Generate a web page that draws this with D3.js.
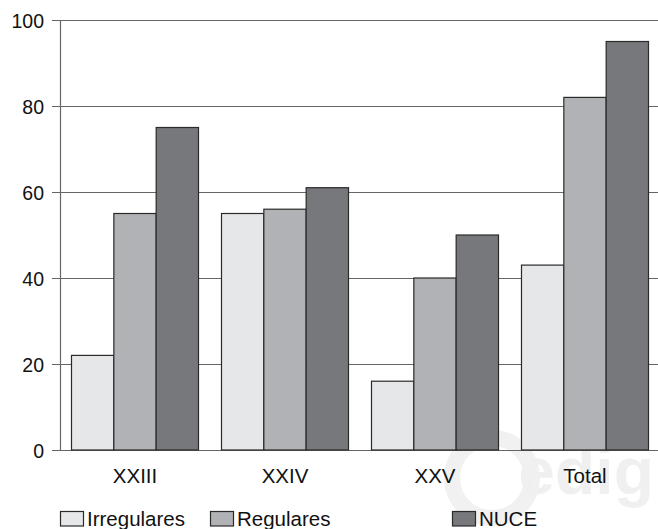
<html>
  <head>
    <script src="https://d3js.org/d3.v7.min.js"></script>
    <style>
      body { margin: 0; background: #fff; }
      text { font-family: "Liberation Sans", Arial, sans-serif; fill: #111; }
    </style>
  </head>
  <body>
<div id="my_dataviz"></div>
<script>
// data
var categories = ["XXIII", "XXIV", "XXV", "Total"];
var seriesNames = ["Irregulares", "Regulares", "NUCE"];
var irregulares = [22, 55, 16, 43];
var regulares = [55, 56, 40, 82];
var nuce = [75, 61, 50, 95];
var yTicks = [0, 20, 40, 60, 80, 100];

var colors = ["#e6e7e9", "#b1b2b6", "#77787c"];
var seriesValues = [irregulares, regulares, nuce];

var W = 658, H = 529;
var svg = d3.select("#my_dataviz")
  .append("svg")
    .attr("width", W)
    .attr("height", H);

// faint watermark behind everything
svg.append("circle")
  .attr("cx", 492).attr("cy", 478).attr("r", 40)
  .attr("fill", "none")
  .attr("stroke", "#f1f1f1")
  .attr("stroke-width", 16);
svg.append("text")
  .attr("x", 654).attr("y", 494)
  .attr("text-anchor", "end")
  .style("font-size", "66px")
  .style("font-weight", "bold")
  .style("fill", "#f0f0f0")
  .text("edig");

var y = d3.scaleLinear()
  .domain([0, 100])
  .range([450, 20]);

var x = d3.scaleBand()
  .domain(categories)
  .range([60, 660])
  .paddingInner(0.1533)
  .paddingOuter(0.0767);

var xs = d3.scaleBand()
  .domain(seriesNames)
  .range([0, x.bandwidth()]);

// gridlines
svg.append("g")
  .selectAll("line")
  .data(yTicks)
  .enter()
  .append("line")
    .attr("x1", 52)
    .attr("x2", W)
    .attr("y1", function (d) { return Math.round(y(d)) + 0.5; })
    .attr("y2", function (d) { return Math.round(y(d)) + 0.5; })
    .attr("stroke", "#666")
    .attr("stroke-width", 1.2);

// y axis line
svg.append("line")
  .attr("x1", 60.5).attr("x2", 60.5)
  .attr("y1", y(100)).attr("y2", y(0))
  .attr("stroke", "#666")
  .attr("stroke-width", 1.2);

// y tick labels
svg.append("g")
  .selectAll("text")
  .data(yTicks)
  .enter()
  .append("text")
    .attr("x", 44)
    .attr("y", function (d) { return y(d) + 7.5; })
    .attr("text-anchor", "end")
    .style("font-size", "19.5px")
    .text(function (d) { return d; });

// bars
seriesNames.forEach(function (name, si) {
  svg.append("g")
    .selectAll("rect")
    .data(categories)
    .enter()
    .append("rect")
      .attr("x", function (d) { return x(d) + xs(name); })
      .attr("y", function (d, i) { return y(seriesValues[si][i]); })
      .attr("width", xs.bandwidth())
      .attr("height", function (d, i) { return y(0) - y(seriesValues[si][i]); })
      .attr("fill", colors[si])
      .attr("stroke", "#2a2a2a")
      .attr("stroke-width", 1.2);
});

// category labels
svg.append("g")
  .selectAll("text")
  .data(categories)
  .enter()
  .append("text")
    .attr("x", function (d) { return x(d) + x.bandwidth() / 2; })
    .attr("y", 482.5)
    .attr("text-anchor", "middle")
    .style("font-size", "20.5px")
    .text(function (d) { return d; });

// legend
var legendX = [60, 210, 452];
seriesNames.forEach(function (name, i) {
  svg.append("rect")
    .attr("x", legendX[i] + 0.5).attr("y", 511.5)
    .attr("width", 23).attr("height", 14.5)
    .attr("fill", colors[i])
    .attr("stroke", "#2a2a2a")
    .attr("stroke-width", 1.2);
  svg.append("text")
    .attr("x", legendX[i] + 27).attr("y", 526)
    .style("font-size", "20.5px")
    .text(name);
});
</script>
  </body>
</html>
